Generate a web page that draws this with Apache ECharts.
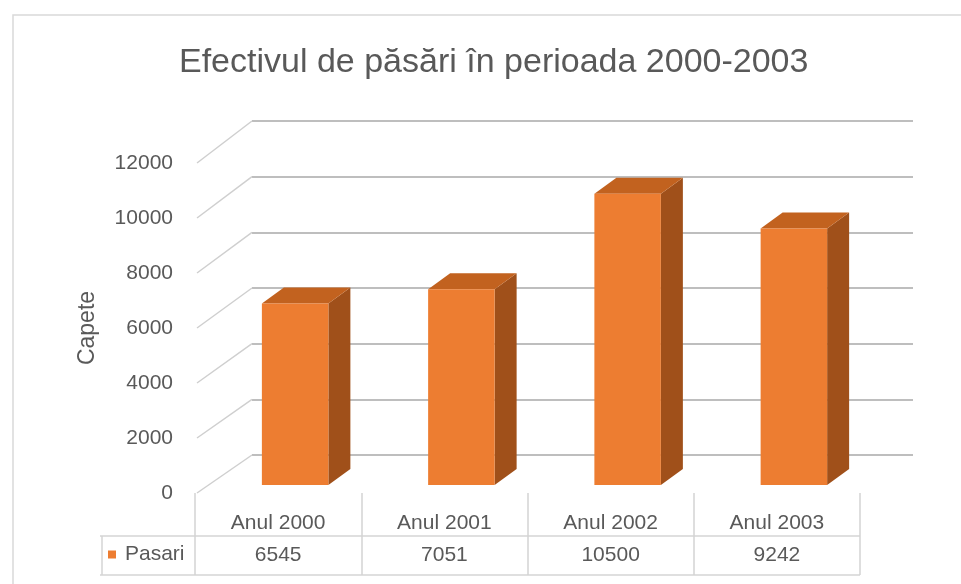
<!DOCTYPE html>
<html>
<head>
<meta charset="utf-8">
<script src="https://cdn.jsdelivr.net/npm/echarts@6/dist/echarts.min.js"></script>
<style>
  html, body { margin: 0; padding: 0; background: #fff; }
  #chart { width: 961px; height: 584px; }
</style>
</head>
<body>
<div id="chart"></div>
<script>
// data
const chartTitle = 'Efectivul de păsări în perioada 2000-2003'
const seriesName = 'Pasari'
const categories = ['Anul 2000', 'Anul 2001', 'Anul 2002', 'Anul 2003']
const values = [6545, 7051, 10500, 9242]
const yTicks = [0, 2000, 4000, 6000, 8000, 10000, 12000]
const yName = 'Capete'

const FONT = 'Liberation Sans'
const TEXT = '#595959'
const FRONT = '#ED7D31'
const TOP = '#C2621F'
const SIDE = '#A0501A'
const DEPTH_X = 22
const DEPTH_Y = -16

const myChart = echarts.init(document.getElementById('chart'))

function renderBar(params, api) {
  const top = api.coord([api.value(0), api.value(1)])
  const base = api.coord([api.value(0), 0])
  const w = api.size([1, 0])[0] * 0.4
  const x0 = top[0] - w / 2
  const x1 = top[0] + w / 2
  const y0 = top[1]
  const y1 = base[1]
  return {
    type: 'group',
    children: [
      { type: 'polygon', shape: { points: [[x1, y0], [x1 + DEPTH_X, y0 + DEPTH_Y], [x1 + DEPTH_X, y1 + DEPTH_Y], [x1, y1]] }, style: { fill: SIDE } },
      { type: 'polygon', shape: { points: [[x0, y0], [x1, y0], [x1 + DEPTH_X, y0 + DEPTH_Y], [x0 + DEPTH_X, y0 + DEPTH_Y]] }, style: { fill: TOP } },
      { type: 'rect', shape: { x: x0, y: y0, width: w, height: y1 - y0 }, style: { fill: api.visual('color') } }
    ]
  }
}

const yBase = { type: 'value', min: 0, max: 12000, interval: 2000 }

const option = {
  animation: false,
  textStyle: { fontFamily: FONT },
  title: {
    text: chartTitle,
    left: 179,
    top: 46,
    padding: 0,
    textStyle: { fontFamily: FONT, fontSize: 34, fontWeight: 'normal', color: TEXT }
  },
  legend: {
    data: [seriesName],
    left: 108,
    top: 544,
    padding: 0,
    icon: 'rect',
    itemWidth: 8,
    itemHeight: 8,
    textStyle: { fontFamily: FONT, fontSize: 21, color: TEXT, padding: [0, 0, 0, 4] }
  },
  grid: [
    // back wall
    { left: 252, right: 48, top: 121, height: 334, containLabel: false },
    // front label plane
    { left: 195, right: 101, top: 163, height: 330, containLabel: false },
    // bar plane
    { left: 212, right: 84, top: 152, height: 333, containLabel: false }
  ],
  xAxis: [
    { type: 'category', gridIndex: 0, data: categories, show: false },
    {
      type: 'category', gridIndex: 1, data: categories, position: 'bottom',
      axisLine: { show: false },
      axisTick: { show: true, length: 82, lineStyle: { color: '#D4D4D4', width: 1.5 } },
      axisLabel: { margin: 20, fontFamily: FONT, fontSize: 21, color: TEXT }
    },
    {
      type: 'category', gridIndex: 1, data: values.map(String), position: 'bottom', offset: 32,
      axisLine: { show: false }, axisTick: { show: false },
      axisLabel: { margin: 20, fontFamily: FONT, fontSize: 21, color: TEXT }
    },
    { type: 'category', gridIndex: 2, data: categories, show: false }
  ],
  yAxis: [
    Object.assign({}, yBase, {
      gridIndex: 0,
      axisLine: { show: false }, axisTick: { show: false }, axisLabel: { show: false },
      splitLine: { show: true, lineStyle: { color: '#BEBEBE', width: 2 } }
    }),
    Object.assign({}, yBase, {
      gridIndex: 1,
      name: yName, nameLocation: 'middle', nameRotate: 90, nameGap: 96,
      nameTextStyle: { fontFamily: FONT, fontSize: 23, color: TEXT },
      axisLine: { show: false }, axisTick: { show: false }, splitLine: { show: false },
      axisLabel: { margin: 22, fontFamily: FONT, fontSize: 21, color: TEXT, formatter: function(v) { return String(v) } }
    }),
    Object.assign({}, yBase, { gridIndex: 2, show: false, splitLine: { show: false } })
  ],
  series: [{
    name: seriesName,
    type: 'custom',
    xAxisIndex: 3,
    yAxisIndex: 2,
    itemStyle: { color: FRONT },
    renderItem: renderBar,
    encode: { x: 0, y: 1 },
    data: values.map((v, i) => [i, v])
  }]
}

myChart.setOption(option)

// diagonals from front labels to back wall, table lines, frame
const g1 = myChart.getModel().getComponent('grid', 1).coordinateSystem.getRect()
const g0 = myChart.getModel().getComponent('grid', 0).coordinateSystem.getRect()
const graphics = yTicks.map(function(v) {
  const yf = myChart.convertToPixel({ yAxisIndex: 1 }, v)
  const yb = myChart.convertToPixel({ yAxisIndex: 0 }, v)
  return { type: 'line', shape: { x1: g1.x + 2, y1: yf, x2: g0.x, y2: yb }, style: { stroke: '#CFCFCF', lineWidth: 1.5 }, silent: true }
})
const tableLeft = 100
const tableRight = g1.x + g1.width
const rowLine = 536
const tableBottom = 575
graphics.push(
  { type: 'line', shape: { x1: tableLeft, y1: rowLine, x2: tableRight, y2: rowLine }, style: { stroke: '#D4D4D4', lineWidth: 1.5 } },
  { type: 'line', shape: { x1: tableLeft, y1: tableBottom, x2: tableRight, y2: tableBottom }, style: { stroke: '#D4D4D4', lineWidth: 1.5 } },
  { type: 'line', shape: { x1: tableLeft + 2, y1: rowLine, x2: tableLeft + 2, y2: tableBottom }, style: { stroke: '#D4D4D4', lineWidth: 1.5 } },
  { type: 'rect', shape: { x: 13, y: 15, width: 1000, height: 700 }, style: { fill: 'none', stroke: '#D9D9D9', lineWidth: 1.5 }, z: -10 }
)
myChart.setOption({ graphic: graphics })

window.addEventListener('resize', function() {
  myChart.resize()
})
</script>
</body>
</html>
